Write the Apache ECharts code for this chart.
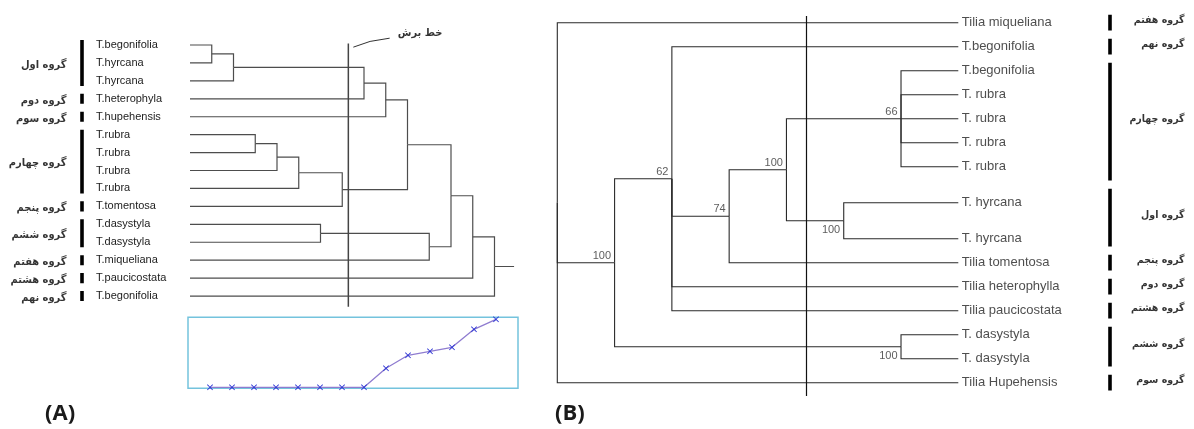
<!DOCTYPE html>
<html><head><meta charset="utf-8">
<script src="https://cdn.jsdelivr.net/npm/echarts@6/dist/echarts.min.js"></script>
<style>html,body{margin:0;padding:0;background:#fff}#c{width:1194px;height:429px}</style>
</head><body><div id="c"></div>
<script>
// ---------- Panel A: dendrogram ----------
const leavesA = ['T.begonifolia','T.hyrcana','T.hyrcana','T.heterophyla','T.hupehensis','T.rubra','T.rubra','T.rubra','T.rubra','T.tomentosa','T.dasystyla','T.dasystyla','T.miqueliana','T.paucicostata','T.begonifolia'];
// linkage rows: [child1, child2, height]; ids >= leavesA.length are earlier merges
const mergesA = [[0,1,1],[15,2,2],[5,6,3],[17,7,4],[18,8,5],[10,11,6],[19,9,7],[16,3,8],[22,4,9],[23,21,10],[20,12,11],[24,25,12],[26,13,13],[27,14,14]];
const rootTailA = 14.9;
const cutA = 7.28;
const cutLabel = 'خط برش';
const groupsA = [['گروه اول',0,2],['گروه دوم',3,3],['گروه سوم',4,4],['گروه چهارم',5,8],['گروه پنجم',9,9],['گروه ششم',10,11],['گروه هفتم',12,12],['گروه هشتم',13,13],['گروه نهم',14,14]];
// inset: score per merge step
const stepX = [1,2,3,4,5,6,7,8,9,10,11,12,13,14];
const stepScore = [0,0,0,0,0,0,0,0,19,32,36,40,58,68];

// ---------- Panel B: consensus tree ----------
const leavesB = ['Tilia miqueliana','T.begonifolia','T.begonifolia','T. rubra','T. rubra','T. rubra','T. rubra','T. hyrcana','T. hyrcana','Tilia tomentosa','Tilia heterophylla','Tilia paucicostata','T. dasystyla','T. dasystyla','Tilia Hupehensis'];
const rowsB = [0,1,2,3,4,5,6,7.5,9,10,11,12,13,14,15];
// internal nodes: children ids, depth, support; node ids start at leavesB.length
const nodeChildrenB = [[2,3,4,5,6],[7,8],[15,16],[17,9],[1,18,10,11],[12,13],[19,20],[0,21,14]];
const nodeDepthB = [6,5,4,3,2,6,1,0];
const nodeSupportB = [66,100,100,74,62,100,100,null];
const supportBelowB = [16,20];
const tipDepthB = 7;
const cutB = 4.34;
const groupsB = [['گروه هفتم',0,0],['گروه نهم',1,1],['گروه چهارم',2,6],['گروه اول',7,8],['گروه پنجم',9,9],['گروه دوم',10,10],['گروه هشتم',11,11],['گروه ششم',12,13],['گروه سوم',14,14]];
const panelLabels = ['(A)','(B)'];

// ---------- build geometry from data ----------
const posA = leavesA.map((n,i)=>({x:0,y:i}));
const edgesA = [];
mergesA.forEach(m=>{
  const a=posA[m[0]], b=posA[m[1]];
  const p={x:m[2], y:(a.y+b.y)/2};
  [a,b].forEach(c=>edgesA.push({coords:[[c.x,c.y],[p.x,c.y],[p.x,p.y]]}));
  posA.push(p);
});
const rootA = posA[posA.length-1];
edgesA.push({coords:[[rootA.x,rootA.y],[rootTailA,rootA.y]]});

const posB = leavesB.map((n,i)=>({x:tipDepthB,y:rowsB[i]}));
const edgesB = [];
const supportPts = [];
nodeChildrenB.forEach((ch,k)=>{
  const id = leavesB.length + k;
  const first=posB[ch[0]], last=posB[ch[ch.length-1]];
  const p={x:nodeDepthB[k], y:(first.y+last.y)/2};
  ch.forEach(c=>{const q=posB[c]; edgesB.push({coords:[[q.x,q.y],[p.x,q.y],[p.x,p.y]]});});
  posB.push(p);
  if(nodeSupportB[k]!=null){
    const below = supportBelowB.indexOf(id)>=0;
    supportPts.push({value:[p.x,p.y],name:String(nodeSupportB[k]),
      label:{offset:[0, below?9:-7]}});
  }
});

function groupBars(groups, rows, gap){
  const n=rows.length, bars=[];
  groups.forEach(g=>{
    const f=g[1], l=g[2];
    const s=(f===0?rows[f]-0.5:(rows[f-1]+rows[f])/2)+gap;
    const e=(l===n-1?rows[l]+0.5:(rows[l]+rows[l+1])/2)-gap;
    bars.push({s:s,e:e,mid:(s+e)/2,name:g[0]});
  });
  return bars;
}
const rowsA = leavesA.map((n,i)=>i);
const barsA = groupBars(groupsA, rowsA, 0.22);
const barsB = groupBars(groupsB, rowsB, 0.17);

const fontLat = 'Liberation Sans, Arial, sans-serif';
const fontFa = '"DejaVu Sans Condensed", "DejaVu Sans", sans-serif';
const hidden = {show:false};
function vAxis(idx, min, max, inv, extra){
  return Object.assign({type:'value', gridIndex:idx, min:min, max:max, inverse:!!inv,
    axisLine:hidden, axisTick:hidden, splitLine:hidden, axisLabel:hidden}, extra||{});
}

const chart = echarts.init(document.getElementById('c'), null, {renderer:'canvas'});
chart.setOption({
  animation:false,
  backgroundColor:'#fff',
  title: panelLabels.map((t,i)=>({text:t, left: i===0?45:555, top:403, padding:0,
    textStyle:{fontFamily:'Open Sans, sans-serif', fontWeight:'bold', fontSize:22, color:'#1a1a1a'}})),
  grid:[
    {left:190, top:27.07, width:326.25, height:286.9, outerBoundsMode:'none'},   // A tree
    {left:0, top:27.07, width:100, height:286.9, outerBoundsMode:'none'},        // A groups
    {left:188, top:317.3, width:330, height:71, show:true, borderColor:'#74c3dd', borderWidth:1.5, backgroundColor:'transparent', outerBoundsMode:'none'}, // inset
    {left:557.3, top:10.7, width:401, height:390, outerBoundsMode:'none'},       // B tree
    {left:1094, top:10.7, width:100, height:390, outerBoundsMode:'none'}         // B groups
  ],
  xAxis:[
    vAxis(0,0,15), vAxis(1,0,100), vAxis(2,0,15), vAxis(3,0,7), vAxis(4,0,100)
  ],
  yAxis:[
    vAxis(0,-1,15,true,{interval:1, axisLabel:{show:true, align:'left', margin:94,
      fontFamily:fontLat, fontSize:11, color:'#222',
      formatter:v=>(Number.isInteger(v)&&v>=0&&v<leavesA.length)?leavesA[v]:''}}),
    vAxis(1,-1,15,true),
    vAxis(2,-1,70),
    vAxis(3,-0.5,15.75,true),
    vAxis(4,-0.5,15.75,true)
  ],
  series:[
    {type:'lines', coordinateSystem:'cartesian2d', xAxisIndex:0, yAxisIndex:0, polyline:true, silent:true,
      lineStyle:{color:'#4d4d4d', width:1.2, opacity:1}, data:edgesA},
    {type:'lines', coordinateSystem:'cartesian2d', xAxisIndex:0, yAxisIndex:0, polyline:true, silent:true,
      lineStyle:{color:'#444', width:1.5, opacity:1},
      data:[{coords:[[cutA,-0.09],[cutA,14.6]]}]},
    {type:'lines', coordinateSystem:'cartesian2d', xAxisIndex:0, yAxisIndex:0, polyline:true, silent:true,
      lineStyle:{color:'#333', width:1, opacity:1},
      data:[{coords:[[cutA+0.23,0.12],[cutA+1.0,-0.2],[cutA+1.9,-0.38]]}]},
    {type:'scatter', xAxisIndex:0, yAxisIndex:0, symbolSize:1, itemStyle:{color:'rgba(0,0,0,0)'},
      label:{show:true, position:'inside', formatter:'{b}', fontFamily:fontFa, fontWeight:'bold', fontSize:11, color:'#000'},
      data:[{value:[cutA+3.3,-0.67], name:cutLabel}]},
    // A group bars + labels
    {type:'lines', coordinateSystem:'cartesian2d', xAxisIndex:1, yAxisIndex:1, silent:true,
      lineStyle:{color:'#000', width:3.6, opacity:1},
      data:barsA.map(b=>({coords:[[81.6,b.s],[81.6,b.e]]}))},
    {type:'scatter', xAxisIndex:1, yAxisIndex:1, symbolSize:1, itemStyle:{color:'rgba(0,0,0,0)'},
      label:{show:true, position:'left', distance:0, offset:[0,2], formatter:'{b}', fontFamily:fontFa, fontWeight:'bold', fontSize:11, color:'#000'},
      data:barsA.map(b=>({value:[67,b.mid], name:b.name}))},
    // inset
    {type:'line', xAxisIndex:2, yAxisIndex:2, data:stepX.map((x,i)=>[x,stepScore[i]]),
      lineStyle:{color:'#8f7cd0', width:1.3},
      symbol:'path://M0,1L1,0L5,4L9,0L10,1L6,5L10,9L9,10L5,6L1,10L0,9L4,5Z', symbolSize:6,
      itemStyle:{color:'#2b33d4'}, showSymbol:true},
    // B tree
    {type:'lines', coordinateSystem:'cartesian2d', xAxisIndex:3, yAxisIndex:3, polyline:true, silent:true,
      lineStyle:{color:'#2a2a2a', width:1.1, opacity:1}, data:edgesB},
    {type:'lines', coordinateSystem:'cartesian2d', xAxisIndex:3, yAxisIndex:3, silent:true,
      lineStyle:{color:'#111', width:1.2, opacity:1},
      data:[{coords:[[cutB,-0.28],[cutB,15.55]]}]},
    {type:'scatter', xAxisIndex:3, yAxisIndex:3, symbolSize:1, itemStyle:{color:'rgba(0,0,0,0)'},
      label:{show:true, position:'right', distance:3, formatter:'{b}', fontFamily:fontLat, fontSize:13, color:'#222'},
      data:leavesB.map((n,i)=>({value:[tipDepthB,rowsB[i]], name:n}))},
    {type:'scatter', xAxisIndex:3, yAxisIndex:3, symbolSize:1, itemStyle:{color:'rgba(0,0,0,0)'},
      label:{show:true, position:'left', distance:3, formatter:'{b}', fontFamily:fontLat, fontSize:11, color:'#333'},
      data:supportPts},
    // B group bars + labels
    {type:'lines', coordinateSystem:'cartesian2d', xAxisIndex:4, yAxisIndex:4, silent:true,
      lineStyle:{color:'#000', width:3.6, opacity:1},
      data:barsB.map(b=>({coords:[[16,b.s],[16,b.e]]}))},
    {type:'scatter', xAxisIndex:4, yAxisIndex:4, symbolSize:1, itemStyle:{color:'rgba(0,0,0,0)'},
      label:{show:true, position:'left', distance:0, offset:[0,-2], formatter:'{b}', fontFamily:fontFa, fontWeight:'bold', fontSize:10.5, color:'#000'},
      data:barsB.map(b=>({value:[91,b.mid], name:b.name}))}
  ]
});
</script></body></html>
